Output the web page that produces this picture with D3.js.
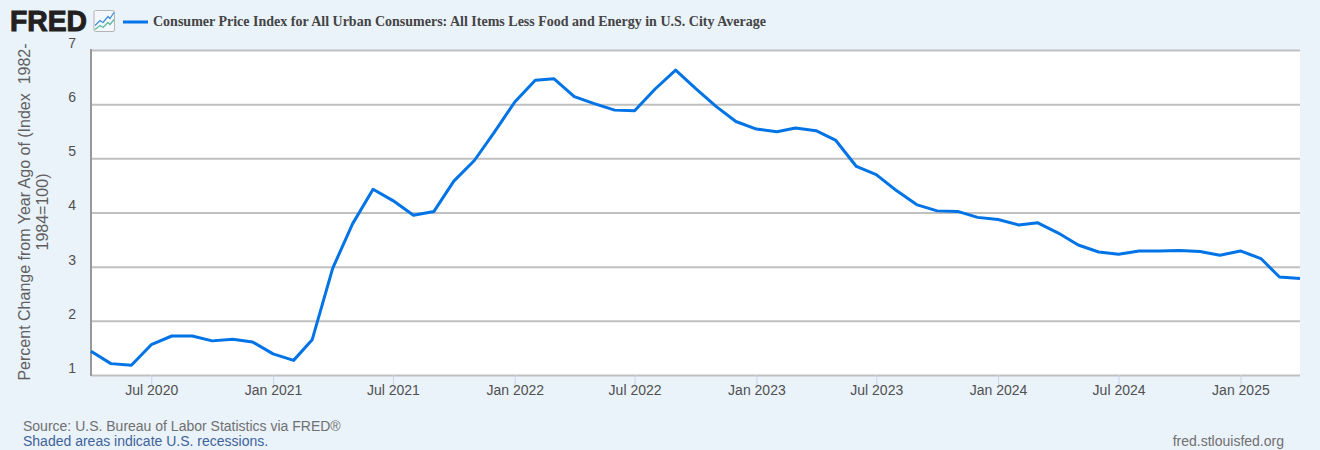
<!DOCTYPE html>
<html>
<head>
<meta charset="utf-8">
<script src="https://cdn.jsdelivr.net/npm/d3@7"></script>
<style>
  html, body { margin: 0; padding: 0; background: #eaf2fa; }
  svg { display: block; font-family: "Liberation Sans", Arial, sans-serif; }
</style>
</head>
<body>
<svg></svg>
<script>
const width = 1320;
const height = 450;

const startMonth = "2020-04";
const cpiValues = [
  1.44, 1.21, 1.18, 1.56, 1.72, 1.72, 1.63, 1.66, 1.61,
  1.39, 1.27, 1.65, 2.97, 3.79, 4.43, 4.22, 3.95, 4.02, 4.58, 4.96, 5.48,
  6.04, 6.44, 6.47, 6.14, 6.01, 5.89, 5.88, 6.28, 6.63, 6.29, 5.96, 5.68,
  5.54, 5.49, 5.56, 5.51, 5.33, 4.85, 4.70, 4.40, 4.14, 4.03, 4.02, 3.91,
  3.87, 3.77, 3.81, 3.62, 3.40, 3.27, 3.23, 3.29, 3.29, 3.30, 3.28, 3.21,
  3.29, 3.15, 2.81, 2.78,
];
const yTicks = [1, 2, 3, 4, 5, 6, 7];
const xTickMonths = [
  "2020-07", "2021-01", "2021-07", "2022-01", "2022-07", "2023-01",
  "2023-07", "2024-01", "2024-07", "2025-01",
];
const seriesTitle =
  "Consumer Price Index for All Urban Consumers: All Items Less Food and Energy in U.S. City Average";
const yLabelLines = ["Percent Change from Year Ago of (Index  1982-", "1984=100)"];

const parseMonth = d3.timeParse("%Y-%m");
const dates = cpiValues.map((v, i) => d3.timeMonth.offset(parseMonth(startMonth), i));

const plot = { left: 91, right: 1300, top: 50, bottom: 375 };

const xScale = d3.scaleTime().domain(d3.extent(dates)).range([plot.left, plot.right]);
const yScale = d3.scaleLinear().domain([1, 7]).range([plot.bottom, plot.top]);

const svg = d3.select("svg").attr("width", width).attr("height", height);

// white plot background
svg.append("rect")
  .attr("x", plot.left).attr("y", plot.top)
  .attr("width", plot.right - plot.left).attr("height", plot.bottom - plot.top)
  .attr("fill", "#fff");

// y axis: gridlines and labels
const yAxis = d3.axisLeft(yScale)
  .tickValues(yTicks)
  .tickSize(-(plot.right - plot.left))
  .tickPadding(0)
  .tickFormat(d3.format("d"));

const yAxisG = svg.append("g")
  .attr("transform", "translate(" + plot.left + ",0)")
  .call(yAxis);
yAxisG.select(".domain").remove();
yAxisG.selectAll("line").attr("stroke", "#c0c0c0").attr("stroke-width", 2);
yAxisG.selectAll("text")
  .attr("x", -15)
  .attr("y", -7)
  .attr("dy", "0.32em")
  .attr("font-size", 14)
  .attr("fill", "#505050");

// x axis
const xAxis = d3.axisBottom(xScale)
  .tickValues(xTickMonths.map(parseMonth))
  .tickSize(10)
  .tickPadding(0.5)
  .tickFormat(d3.timeFormat("%b %Y"));

const xAxisG = svg.append("g")
  .attr("transform", "translate(0," + plot.bottom + ")")
  .call(xAxis);
xAxisG.select(".domain").remove();
xAxisG.selectAll("line").attr("stroke", "#c8d6ea").attr("stroke-width", 1);
xAxisG.selectAll("text").attr("font-size", 14).attr("fill", "#505050");

// left axis line
svg.append("line")
  .attr("x1", plot.left).attr("x2", plot.left)
  .attr("y1", plot.top - 1).attr("y2", plot.bottom + 1)
  .attr("stroke", "#999").attr("stroke-width", 2);

// series line
const line = d3.line()
  .x((d, i) => xScale(dates[i]))
  .y((d) => yScale(d));

svg.append("path")
  .datum(cpiValues)
  .attr("d", line)
  .attr("fill", "none")
  .attr("stroke", "#0073e6")
  .attr("stroke-width", 3)
  .attr("stroke-linejoin", "round");

// y axis title
const yLabel = svg.append("text")
  .attr("transform", "translate(30,212) rotate(-90)")
  .attr("text-anchor", "middle")
  .attr("font-size", 16)
  .attr("fill", "#606060")
  .style("white-space", "pre");
yLabel.selectAll("tspan")
  .data(yLabelLines)
  .enter()
  .append("tspan")
  .attr("x", 0)
  .attr("dy", (d, i) => (i === 0 ? 0 : 18))
  .text((d) => d);

// FRED logo
svg.append("text")
  .attr("x", 10).attr("y", 31)
  .attr("font-size", 29)
  .attr("font-weight", "bold")
  .attr("fill", "#231f20")
  .attr("stroke", "#231f20")
  .attr("stroke-width", 1)
  .attr("textLength", 77)
  .attr("lengthAdjust", "spacingAndGlyphs")
  .text("FRED");

const icon = svg.append("g").attr("transform", "translate(94,10.5)");
icon.append("rect")
  .attr("x", 0).attr("y", 0).attr("width", 20.5).attr("height", 21).attr("rx", 1.5)
  .attr("fill", "#f4f8fc").attr("stroke", "#b5b5b5");
icon.append("path")
  .attr("d", "M1 15 L6 10 L9 12 L14 6 L16 8 L20 2")
  .attr("fill", "none").attr("stroke", "#3b8fe0").attr("stroke-width", 1.3);
icon.append("path")
  .attr("d", "M1 19 L6 15 L9 17 L14 12 L16 14 L20 9")
  .attr("fill", "none").attr("stroke", "#5dbb9b").attr("stroke-width", 1.3);

// legend
svg.append("line")
  .attr("x1", 123).attr("x2", 148)
  .attr("y1", 22).attr("y2", 22)
  .attr("stroke", "#0073e6").attr("stroke-width", 3);
svg.append("text")
  .attr("x", 153).attr("y", 26)
  .attr("font-family", "'Liberation Serif', 'Times New Roman', serif")
  .attr("font-size", 14)
  .attr("font-weight", "bold")
  .attr("fill", "#444")
  .text(seriesTitle);

// footer
svg.append("text")
  .attr("x", 23).attr("y", 431)
  .attr("font-size", 14).attr("fill", "#707070")
  .text("Source: U.S. Bureau of Labor Statistics via FRED®");
svg.append("text")
  .attr("x", 23).attr("y", 446)
  .attr("font-size", 14).attr("fill", "#3e6399")
  .text("Shaded areas indicate U.S. recessions.");
svg.append("text")
  .attr("x", 1284).attr("y", 446)
  .attr("text-anchor", "end")
  .attr("font-size", 14).attr("fill", "#707070")
  .text("fred.stlouisfed.org");
</script>
</body>
</html>
